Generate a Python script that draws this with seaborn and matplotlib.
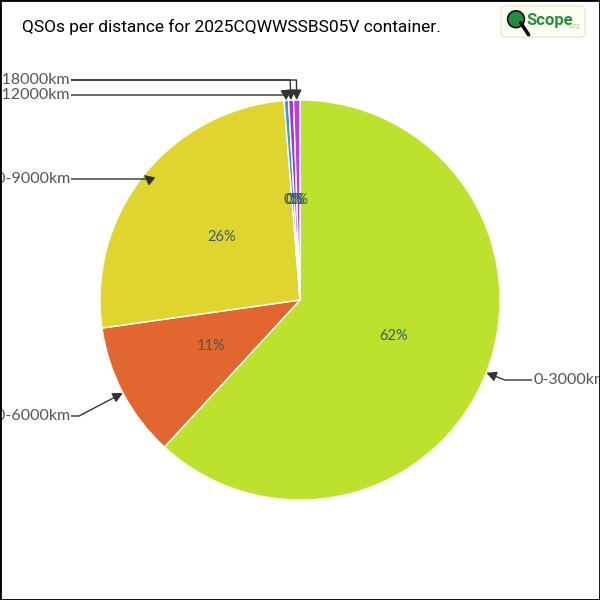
import numpy as np
import matplotlib
matplotlib.use('Agg')
import matplotlib.pyplot as plt
import seaborn as sns
from matplotlib.patches import Rectangle, FancyBboxPatch, Circle

# data
dist_labels = ['0-3000km', '3000-6000km', '6000-9000km',
               '9000-12000km', '12000-15000km', '15000-18000km']
qso_counts = [1560, 275, 655, 9, 10, 13]
slice_colors = ['#bde22e', '#e2662f', '#e0d52e', '#2e9ee2', '#a832e2', '#bd3ee6']

# label layout (data units, pie radius = 1)
label_x = [1.165, -1.15, -1.15, -1.15, -1.15, -1.15]
label_y = [-0.40, -0.58, 0.605, 1.025, 1.10, 1.10]

title = 'QSOs per distance for 2025CQWWSSBS05V container.'


def main():
    sns.set_theme(style='white')
    plt.rcParams['font.family'] = ['Lato', 'DejaVu Sans']

    fig = plt.figure(figsize=(6, 6), dpi=100)
    ax = fig.add_axes([0, 0, 1, 1])

    wedges, _, pcts = ax.pie(qso_counts, colors=slice_colors, startangle=90,
                             counterclock=False, autopct='%.0f%%', pctdistance=0.5,
                             radius=1.0,
                             wedgeprops=dict(edgecolor='white', linewidth=1),
                             textprops=dict(color='#3d5c63', fontsize=10.5))
    ax.set_xlim(-1.5, 1.5)
    ax.set_ylim(-1.5, 1.5)
    ax.set_aspect('equal')
    ax.axis('off')

    for w, lab, lx, ly in zip(wedges, dist_labels, label_x, label_y):
        mid = np.deg2rad((w.theta1 + w.theta2) / 2)
        tip = (np.cos(mid), np.sin(mid))
        ha = 'left' if lx > 0 else 'right'
        ax.annotate(lab, xy=tip, xytext=(lx, ly), ha=ha, va='center',
                    fontsize=11.5, color='#555555',
                    bbox=dict(boxstyle='square,pad=0.05', fc='white', ec='none'),
                    arrowprops=dict(arrowstyle='-|>', color='#333333', lw=1,
                                    mutation_scale=15, shrinkA=0, shrinkB=0,
                                    connectionstyle='angle,angleA=0,angleB=%.1f,rad=0'
                                    % np.rad2deg(mid)))

    fig.text(0.037, 0.955, title, ha='left', va='center', fontsize=12.5,
             color='black', family=['Roboto', 'DejaVu Sans'])

    # logo
    fig.patches.append(FancyBboxPatch((0.835, 0.938), 0.14, 0.052,
                                      boxstyle='round,pad=0,rounding_size=0.008',
                                      transform=fig.transFigure, fc='#fdfff4',
                                      ec='#e6efc2', lw=1))
    fig.lines.append(plt.Line2D([0.868, 0.881], [0.962, 0.942], transform=fig.transFigure,
                                color='black', lw=2.5))
    fig.patches.append(Circle((0.86, 0.968), 0.014, transform=fig.transFigure,
                              fc='#1f8f3f', ec='#111111', lw=1.2))
    fig.text(0.877, 0.966, 'Scope', ha='left', va='center', fontsize=12,
             fontweight='bold', color='#23913f', family=['Roboto', 'DejaVu Sans'])
    fig.text(0.947, 0.957, '.org', ha='left', va='center', fontsize=5,
             color='#a9cc6a')

    fig.patches.append(Rectangle((0, 0), 1, 1, transform=fig.transFigure,
                                 fill=False, edgecolor='black', lw=2))

    fig.savefig('out.png', dpi=100)
    plt.close(fig)


if __name__ == '__main__':
    main()
